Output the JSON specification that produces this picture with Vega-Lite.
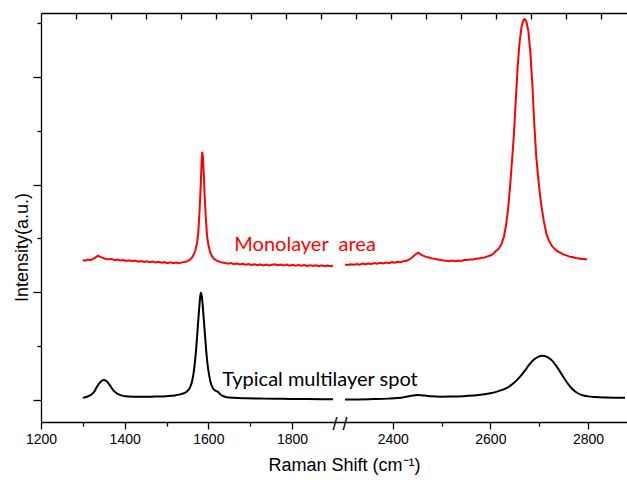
{
  "$schema": "https://vega.github.io/schema/vega-lite/v6.json",
  "width": 586,
  "height": 409,
  "autosize": {"type": "none"},
  "padding": {"left": 41, "top": 13, "right": 0, "bottom": 58},
  "background": "white",
  "config": {
    "view": {"stroke": null},
    "axis": {
      "grid": false,
      "domainColor": "#000000",
      "tickColor": "#000000",
      "labelColor": "#000000",
      "titleColor": "#000000",
      "labelFont": "Liberation Sans",
      "titleFont": "Liberation Sans",
      "titleFontWeight": "normal",
      "domainWidth": 1.3,
      "tickWidth": 1.3
    }
  },
  "datasets": {
    "monolayer": [
      {"wn": 1300, "intensity": 1.300, "part": "low"},
      {"wn": 1306, "intensity": 1.294, "part": "low"},
      {"wn": 1312, "intensity": 1.304, "part": "low"},
      {"wn": 1318, "intensity": 1.298, "part": "low"},
      {"wn": 1324, "intensity": 1.311, "part": "low"},
      {"wn": 1330, "intensity": 1.322, "part": "low"},
      {"wn": 1336, "intensity": 1.340, "part": "low"},
      {"wn": 1342, "intensity": 1.329, "part": "low"},
      {"wn": 1348, "intensity": 1.320, "part": "low"},
      {"wn": 1355, "intensity": 1.310, "part": "low"},
      {"wn": 1362, "intensity": 1.307, "part": "low"},
      {"wn": 1369, "intensity": 1.310, "part": "low"},
      {"wn": 1376, "intensity": 1.299, "part": "low"},
      {"wn": 1383, "intensity": 1.305, "part": "low"},
      {"wn": 1390, "intensity": 1.295, "part": "low"},
      {"wn": 1397, "intensity": 1.300, "part": "low"},
      {"wn": 1404, "intensity": 1.291, "part": "low"},
      {"wn": 1411, "intensity": 1.297, "part": "low"},
      {"wn": 1418, "intensity": 1.288, "part": "low"},
      {"wn": 1425, "intensity": 1.294, "part": "low"},
      {"wn": 1432, "intensity": 1.285, "part": "low"},
      {"wn": 1439, "intensity": 1.291, "part": "low"},
      {"wn": 1446, "intensity": 1.282, "part": "low"},
      {"wn": 1453, "intensity": 1.288, "part": "low"},
      {"wn": 1460, "intensity": 1.279, "part": "low"},
      {"wn": 1467, "intensity": 1.285, "part": "low"},
      {"wn": 1474, "intensity": 1.276, "part": "low"},
      {"wn": 1481, "intensity": 1.283, "part": "low"},
      {"wn": 1488, "intensity": 1.274, "part": "low"},
      {"wn": 1495, "intensity": 1.280, "part": "low"},
      {"wn": 1502, "intensity": 1.271, "part": "low"},
      {"wn": 1509, "intensity": 1.278, "part": "low"},
      {"wn": 1516, "intensity": 1.270, "part": "low"},
      {"wn": 1523, "intensity": 1.276, "part": "low"},
      {"wn": 1530, "intensity": 1.269, "part": "low"},
      {"wn": 1537, "intensity": 1.278, "part": "low"},
      {"wn": 1544, "intensity": 1.282, "part": "low"},
      {"wn": 1550, "intensity": 1.290, "part": "low"},
      {"wn": 1556, "intensity": 1.302, "part": "low"},
      {"wn": 1561, "intensity": 1.325, "part": "low"},
      {"wn": 1565, "intensity": 1.350, "part": "low"},
      {"wn": 1569, "intensity": 1.390, "part": "low"},
      {"wn": 1573, "intensity": 1.460, "part": "low"},
      {"wn": 1576, "intensity": 1.560, "part": "low"},
      {"wn": 1579, "intensity": 1.760, "part": "low"},
      {"wn": 1582, "intensity": 2.020, "part": "low"},
      {"wn": 1584, "intensity": 2.230, "part": "low"},
      {"wn": 1585.5, "intensity": 2.305, "part": "low"},
      {"wn": 1587, "intensity": 2.250, "part": "low"},
      {"wn": 1589, "intensity": 2.100, "part": "low"},
      {"wn": 1591, "intensity": 1.900, "part": "low"},
      {"wn": 1594, "intensity": 1.680, "part": "low"},
      {"wn": 1597, "intensity": 1.520, "part": "low"},
      {"wn": 1600, "intensity": 1.440, "part": "low"},
      {"wn": 1604, "intensity": 1.375, "part": "low"},
      {"wn": 1608, "intensity": 1.340, "part": "low"},
      {"wn": 1613, "intensity": 1.312, "part": "low"},
      {"wn": 1619, "intensity": 1.296, "part": "low"},
      {"wn": 1626, "intensity": 1.285, "part": "low"},
      {"wn": 1633, "intensity": 1.276, "part": "low"},
      {"wn": 1640, "intensity": 1.273, "part": "low"},
      {"wn": 1647, "intensity": 1.265, "part": "low"},
      {"wn": 1654, "intensity": 1.271, "part": "low"},
      {"wn": 1661, "intensity": 1.261, "part": "low"},
      {"wn": 1668, "intensity": 1.267, "part": "low"},
      {"wn": 1675, "intensity": 1.258, "part": "low"},
      {"wn": 1682, "intensity": 1.264, "part": "low"},
      {"wn": 1689, "intensity": 1.256, "part": "low"},
      {"wn": 1696, "intensity": 1.263, "part": "low"},
      {"wn": 1703, "intensity": 1.254, "part": "low"},
      {"wn": 1710, "intensity": 1.260, "part": "low"},
      {"wn": 1717, "intensity": 1.252, "part": "low"},
      {"wn": 1724, "intensity": 1.259, "part": "low"},
      {"wn": 1731, "intensity": 1.250, "part": "low"},
      {"wn": 1738, "intensity": 1.257, "part": "low"},
      {"wn": 1745, "intensity": 1.249, "part": "low"},
      {"wn": 1752, "intensity": 1.256, "part": "low"},
      {"wn": 1759, "intensity": 1.261, "part": "low"},
      {"wn": 1766, "intensity": 1.252, "part": "low"},
      {"wn": 1773, "intensity": 1.258, "part": "low"},
      {"wn": 1780, "intensity": 1.250, "part": "low"},
      {"wn": 1787, "intensity": 1.257, "part": "low"},
      {"wn": 1794, "intensity": 1.248, "part": "low"},
      {"wn": 1801, "intensity": 1.255, "part": "low"},
      {"wn": 1808, "intensity": 1.247, "part": "low"},
      {"wn": 1815, "intensity": 1.254, "part": "low"},
      {"wn": 1822, "intensity": 1.246, "part": "low"},
      {"wn": 1829, "intensity": 1.253, "part": "low"},
      {"wn": 1836, "intensity": 1.245, "part": "low"},
      {"wn": 1843, "intensity": 1.252, "part": "low"},
      {"wn": 1850, "intensity": 1.244, "part": "low"},
      {"wn": 1857, "intensity": 1.251, "part": "low"},
      {"wn": 1864, "intensity": 1.243, "part": "low"},
      {"wn": 1871, "intensity": 1.250, "part": "low"},
      {"wn": 1878, "intensity": 1.243, "part": "low"},
      {"wn": 1885, "intensity": 1.249, "part": "low"},
      {"wn": 1892, "intensity": 1.242, "part": "low"},
      {"wn": 1898, "intensity": 1.247, "part": "low"},
      {"wn": 2302, "intensity": 1.258, "part": "high"},
      {"wn": 2308, "intensity": 1.253, "part": "high"},
      {"wn": 2314, "intensity": 1.261, "part": "high"},
      {"wn": 2320, "intensity": 1.255, "part": "high"},
      {"wn": 2326, "intensity": 1.263, "part": "high"},
      {"wn": 2332, "intensity": 1.257, "part": "high"},
      {"wn": 2338, "intensity": 1.266, "part": "high"},
      {"wn": 2344, "intensity": 1.260, "part": "high"},
      {"wn": 2350, "intensity": 1.268, "part": "high"},
      {"wn": 2356, "intensity": 1.262, "part": "high"},
      {"wn": 2362, "intensity": 1.271, "part": "high"},
      {"wn": 2368, "intensity": 1.265, "part": "high"},
      {"wn": 2374, "intensity": 1.274, "part": "high"},
      {"wn": 2380, "intensity": 1.268, "part": "high"},
      {"wn": 2386, "intensity": 1.277, "part": "high"},
      {"wn": 2392, "intensity": 1.271, "part": "high"},
      {"wn": 2398, "intensity": 1.280, "part": "high"},
      {"wn": 2404, "intensity": 1.275, "part": "high"},
      {"wn": 2410, "intensity": 1.284, "part": "high"},
      {"wn": 2416, "intensity": 1.279, "part": "high"},
      {"wn": 2422, "intensity": 1.289, "part": "high"},
      {"wn": 2428, "intensity": 1.292, "part": "high"},
      {"wn": 2434, "intensity": 1.305, "part": "high"},
      {"wn": 2440, "intensity": 1.325, "part": "high"},
      {"wn": 2446, "intensity": 1.350, "part": "high"},
      {"wn": 2452, "intensity": 1.368, "part": "high"},
      {"wn": 2457, "intensity": 1.352, "part": "high"},
      {"wn": 2462, "intensity": 1.341, "part": "high"},
      {"wn": 2468, "intensity": 1.329, "part": "high"},
      {"wn": 2474, "intensity": 1.323, "part": "high"},
      {"wn": 2480, "intensity": 1.315, "part": "high"},
      {"wn": 2486, "intensity": 1.311, "part": "high"},
      {"wn": 2492, "intensity": 1.305, "part": "high"},
      {"wn": 2498, "intensity": 1.301, "part": "high"},
      {"wn": 2504, "intensity": 1.295, "part": "high"},
      {"wn": 2510, "intensity": 1.293, "part": "high"},
      {"wn": 2516, "intensity": 1.289, "part": "high"},
      {"wn": 2522, "intensity": 1.295, "part": "high"},
      {"wn": 2528, "intensity": 1.289, "part": "high"},
      {"wn": 2534, "intensity": 1.296, "part": "high"},
      {"wn": 2540, "intensity": 1.291, "part": "high"},
      {"wn": 2546, "intensity": 1.299, "part": "high"},
      {"wn": 2552, "intensity": 1.299, "part": "high"},
      {"wn": 2558, "intensity": 1.305, "part": "high"},
      {"wn": 2564, "intensity": 1.305, "part": "high"},
      {"wn": 2570, "intensity": 1.311, "part": "high"},
      {"wn": 2576, "intensity": 1.313, "part": "high"},
      {"wn": 2582, "intensity": 1.320, "part": "high"},
      {"wn": 2588, "intensity": 1.324, "part": "high"},
      {"wn": 2594, "intensity": 1.334, "part": "high"},
      {"wn": 2600, "intensity": 1.342, "part": "high"},
      {"wn": 2606, "intensity": 1.358, "part": "high"},
      {"wn": 2612, "intensity": 1.385, "part": "high"},
      {"wn": 2618, "intensity": 1.410, "part": "high"},
      {"wn": 2623, "intensity": 1.450, "part": "high"},
      {"wn": 2628, "intensity": 1.520, "part": "high"},
      {"wn": 2632, "intensity": 1.620, "part": "high"},
      {"wn": 2636, "intensity": 1.760, "part": "high"},
      {"wn": 2640, "intensity": 1.960, "part": "high"},
      {"wn": 2644, "intensity": 2.200, "part": "high"},
      {"wn": 2648, "intensity": 2.450, "part": "high"},
      {"wn": 2652, "intensity": 2.780, "part": "high"},
      {"wn": 2656, "intensity": 3.100, "part": "high"},
      {"wn": 2660, "intensity": 3.330, "part": "high"},
      {"wn": 2664, "intensity": 3.470, "part": "high"},
      {"wn": 2668, "intensity": 3.530, "part": "high"},
      {"wn": 2671, "intensity": 3.535, "part": "high"},
      {"wn": 2674, "intensity": 3.510, "part": "high"},
      {"wn": 2678, "intensity": 3.420, "part": "high"},
      {"wn": 2682, "intensity": 3.220, "part": "high"},
      {"wn": 2686, "intensity": 2.930, "part": "high"},
      {"wn": 2690, "intensity": 2.560, "part": "high"},
      {"wn": 2694, "intensity": 2.260, "part": "high"},
      {"wn": 2698, "intensity": 2.060, "part": "high"},
      {"wn": 2702, "intensity": 1.890, "part": "high"},
      {"wn": 2706, "intensity": 1.760, "part": "high"},
      {"wn": 2710, "intensity": 1.650, "part": "high"},
      {"wn": 2715, "intensity": 1.540, "part": "high"},
      {"wn": 2720, "intensity": 1.480, "part": "high"},
      {"wn": 2726, "intensity": 1.430, "part": "high"},
      {"wn": 2732, "intensity": 1.401, "part": "high"},
      {"wn": 2738, "intensity": 1.380, "part": "high"},
      {"wn": 2744, "intensity": 1.366, "part": "high"},
      {"wn": 2750, "intensity": 1.350, "part": "high"},
      {"wn": 2756, "intensity": 1.343, "part": "high"},
      {"wn": 2762, "intensity": 1.331, "part": "high"},
      {"wn": 2768, "intensity": 1.327, "part": "high"},
      {"wn": 2774, "intensity": 1.318, "part": "high"},
      {"wn": 2780, "intensity": 1.317, "part": "high"},
      {"wn": 2786, "intensity": 1.310, "part": "high"},
      {"wn": 2792, "intensity": 1.310, "part": "high"},
      {"wn": 2798, "intensity": 1.305, "part": "high"}
    ],
    "multilayer": [
      {"wn": 1300, "intensity": 0.020, "part": "low"},
      {"wn": 1310, "intensity": 0.030, "part": "low"},
      {"wn": 1318, "intensity": 0.045, "part": "low"},
      {"wn": 1326, "intensity": 0.070, "part": "low"},
      {"wn": 1334, "intensity": 0.125, "part": "low"},
      {"wn": 1342, "intensity": 0.168, "part": "low"},
      {"wn": 1350, "intensity": 0.186, "part": "low"},
      {"wn": 1357, "intensity": 0.175, "part": "low"},
      {"wn": 1364, "intensity": 0.140, "part": "low"},
      {"wn": 1372, "intensity": 0.095, "part": "low"},
      {"wn": 1380, "intensity": 0.065, "part": "low"},
      {"wn": 1390, "intensity": 0.045, "part": "low"},
      {"wn": 1400, "intensity": 0.036, "part": "low"},
      {"wn": 1420, "intensity": 0.031, "part": "low"},
      {"wn": 1444, "intensity": 0.030, "part": "low"},
      {"wn": 1470, "intensity": 0.032, "part": "low"},
      {"wn": 1500, "intensity": 0.036, "part": "low"},
      {"wn": 1520, "intensity": 0.043, "part": "low"},
      {"wn": 1535, "intensity": 0.055, "part": "low"},
      {"wn": 1548, "intensity": 0.077, "part": "low"},
      {"wn": 1556, "intensity": 0.115, "part": "low"},
      {"wn": 1562, "intensity": 0.190, "part": "low"},
      {"wn": 1566, "intensity": 0.290, "part": "low"},
      {"wn": 1570, "intensity": 0.440, "part": "low"},
      {"wn": 1574, "intensity": 0.640, "part": "low"},
      {"wn": 1577, "intensity": 0.800, "part": "low"},
      {"wn": 1580, "intensity": 0.940, "part": "low"},
      {"wn": 1582, "intensity": 0.996, "part": "low"},
      {"wn": 1584, "intensity": 0.970, "part": "low"},
      {"wn": 1586, "intensity": 0.900, "part": "low"},
      {"wn": 1589, "intensity": 0.750, "part": "low"},
      {"wn": 1592, "intensity": 0.600, "part": "low"},
      {"wn": 1595, "intensity": 0.450, "part": "low"},
      {"wn": 1598, "intensity": 0.330, "part": "low"},
      {"wn": 1601, "intensity": 0.250, "part": "low"},
      {"wn": 1605, "intensity": 0.170, "part": "low"},
      {"wn": 1610, "intensity": 0.115, "part": "low"},
      {"wn": 1615, "intensity": 0.092, "part": "low"},
      {"wn": 1620, "intensity": 0.082, "part": "low"},
      {"wn": 1624, "intensity": 0.072, "part": "low"},
      {"wn": 1628, "intensity": 0.055, "part": "low"},
      {"wn": 1634, "intensity": 0.038, "part": "low"},
      {"wn": 1644, "intensity": 0.026, "part": "low"},
      {"wn": 1660, "intensity": 0.020, "part": "low"},
      {"wn": 1690, "intensity": 0.016, "part": "low"},
      {"wn": 1730, "intensity": 0.013, "part": "low"},
      {"wn": 1780, "intensity": 0.011, "part": "low"},
      {"wn": 1830, "intensity": 0.009, "part": "low"},
      {"wn": 1870, "intensity": 0.008, "part": "low"},
      {"wn": 1898, "intensity": 0.007, "part": "low"},
      {"wn": 2302, "intensity": 0.004, "part": "high"},
      {"wn": 2330, "intensity": 0.006, "part": "high"},
      {"wn": 2360, "intensity": 0.009, "part": "high"},
      {"wn": 2390, "intensity": 0.013, "part": "high"},
      {"wn": 2410, "intensity": 0.018, "part": "high"},
      {"wn": 2425, "intensity": 0.028, "part": "high"},
      {"wn": 2438, "intensity": 0.040, "part": "high"},
      {"wn": 2452, "intensity": 0.046, "part": "high"},
      {"wn": 2466, "intensity": 0.041, "part": "high"},
      {"wn": 2480, "intensity": 0.034, "part": "high"},
      {"wn": 2497, "intensity": 0.031, "part": "high"},
      {"wn": 2520, "intensity": 0.032, "part": "high"},
      {"wn": 2545, "intensity": 0.036, "part": "high"},
      {"wn": 2565, "intensity": 0.042, "part": "high"},
      {"wn": 2580, "intensity": 0.048, "part": "high"},
      {"wn": 2600, "intensity": 0.062, "part": "high"},
      {"wn": 2618, "intensity": 0.085, "part": "high"},
      {"wn": 2634, "intensity": 0.113, "part": "high"},
      {"wn": 2648, "intensity": 0.158, "part": "high"},
      {"wn": 2660, "intensity": 0.212, "part": "high"},
      {"wn": 2670, "intensity": 0.268, "part": "high"},
      {"wn": 2680, "intensity": 0.330, "part": "high"},
      {"wn": 2690, "intensity": 0.378, "part": "high"},
      {"wn": 2699, "intensity": 0.403, "part": "high"},
      {"wn": 2707, "intensity": 0.410, "part": "high"},
      {"wn": 2716, "intensity": 0.400, "part": "high"},
      {"wn": 2726, "intensity": 0.368, "part": "high"},
      {"wn": 2736, "intensity": 0.310, "part": "high"},
      {"wn": 2746, "intensity": 0.240, "part": "high"},
      {"wn": 2756, "intensity": 0.170, "part": "high"},
      {"wn": 2766, "intensity": 0.112, "part": "high"},
      {"wn": 2776, "intensity": 0.072, "part": "high"},
      {"wn": 2788, "intensity": 0.046, "part": "high"},
      {"wn": 2800, "intensity": 0.034, "part": "high"},
      {"wn": 2815, "intensity": 0.028, "part": "high"},
      {"wn": 2835, "intensity": 0.024, "part": "high"},
      {"wn": 2855, "intensity": 0.022, "part": "high"},
      {"wn": 2876, "intensity": 0.021, "part": "high"}
    ],
    "notes": [
      {"wn": 1662, "intensity": 1.383, "label": "Monolayer \u00a0area", "series": "mono"},
      {"wn": 1633, "intensity": 0.133, "label": "Typical multilayer spot", "series": "multi"}
    ]
  },
  "layer": [
    {
      "layer": [
        {
          "data": {"name": "monolayer"},
          "mark": {"type": "line", "color": "#ff0000", "strokeWidth": 2},
          "encoding": {
            "x": {
              "field": "wn", "type": "quantitative",
              "scale": {"type": "linear", "domain": [1200, 1905, 2300, 2880], "range": [0, 295, 303, 586], "zero": false, "nice": false},
              "axis": {
                "values": [1200, 1400, 1600, 1800, 2400, 2600, 2800],
                "format": "d",
                "tickSize": 7,
                "labelFontSize": 14,
                "labelPadding": 3,
                "labelFlush": false,
                "labelOverlap": false,
                "title": "Raman Shift (cm⁻¹)",
                "titleFontSize": 18,
                "titlePadding": 10,
                "titleX": 303
              }
            },
            "y": {
              "field": "intensity", "type": "quantitative",
              "scale": {"domain": [-0.204, 3.593], "zero": false, "nice": false},
              "axis": {
                "values": [0, 1, 2, 3],
                "tickSize": 8,
                "labels": false,
                "title": "Intensity(a.u.)",
                "titleFontSize": 18,
                "titlePadding": 1,
                "titleY": 234
              }
            },
            "detail": {"field": "part"}
          }
        },
        {
          "data": {"name": "multilayer"},
          "mark": {"type": "line", "color": "#000000", "strokeWidth": 2, "interpolate": "monotone"},
          "encoding": {
            "x": {
              "field": "wn", "type": "quantitative",
              "scale": {"type": "linear", "domain": [1200, 1905, 2300, 2880], "range": [0, 295, 303, 586], "zero": false, "nice": false},
              "axis": null
            },
            "y": {
              "field": "intensity", "type": "quantitative",
              "scale": {"domain": [-0.204, 3.593], "zero": false, "nice": false},
              "axis": null
            },
            "detail": {"field": "part"}
          }
        },
        {
          "data": {"name": "notes"},
          "mark": {"type": "text", "align": "left", "baseline": "alphabetic", "font": "Lato", "fontSize": 20},
          "encoding": {
            "x": {
              "field": "wn", "type": "quantitative",
              "scale": {"type": "linear", "domain": [1200, 1905, 2300, 2880], "range": [0, 295, 303, 586], "zero": false, "nice": false},
              "axis": null
            },
            "y": {
              "field": "intensity", "type": "quantitative",
              "scale": {"domain": [-0.204, 3.593], "zero": false, "nice": false},
              "axis": null
            },
            "text": {"field": "label"},
            "color": {
              "field": "series", "type": "nominal",
              "scale": {"domain": ["mono", "multi"], "range": ["#ff0000", "#000000"]},
              "legend": null
            }
          }
        },
        {
          "data": {"values": [{}]},
          "mark": {"type": "text", "text": "/ /", "font": "Liberation Sans", "fontSize": 18, "align": "center", "baseline": "middle", "dy": 3, "color": "#000000"},
          "encoding": {
            "x": {
              "datum": 2100, "type": "quantitative",
              "scale": {"type": "linear", "domain": [1200, 1905, 2300, 2880], "range": [0, 295, 303, 586], "zero": false, "nice": false},
              "axis": null
            },
            "y": {
              "datum": -0.204, "type": "quantitative",
              "scale": {"domain": [-0.204, 3.593], "zero": false, "nice": false},
              "axis": null
            }
          }
        },
        {
          "data": {"values": [{}]},
          "mark": {"type": "point", "opacity": 0},
          "encoding": {
            "x": {
              "datum": 1300, "type": "quantitative",
              "scale": {"type": "linear", "domain": [1200, 1905, 2300, 2880], "range": [0, 295, 303, 586], "zero": false, "nice": false},
              "axis": {"orient": "bottom", "values": [1300, 1500, 1700, 2500, 2700], "tickSize": 4, "labels": false, "domain": false, "title": null}
            },
            "y": {
              "datum": 0, "type": "quantitative",
              "scale": {"domain": [-0.204, 3.593], "zero": false, "nice": false},
              "axis": {"orient": "left", "values": [0.5, 1.5, 2.5, 3.5], "tickSize": 4, "labels": false, "domain": false, "title": null}
            }
          }
        }
      ],
      "resolve": {"axis": {"x": "independent", "y": "independent"}}
    },
    {
      "data": {"values": [{}]},
      "mark": {"type": "point", "opacity": 0},
      "encoding": {
        "x": {
          "datum": 0, "type": "quantitative",
          "scale": {"domain": [0, 16.743], "zero": false, "nice": false},
          "axis": {"orient": "top", "values": [1, 2, 3, 4, 5, 6, 7, 8, 9, 10, 11, 12, 13, 14, 15, 16], "tickSize": -6, "labels": false, "title": null}
        }
      }
    }
  ],
  "resolve": {"scale": {"x": "independent"}}
}
